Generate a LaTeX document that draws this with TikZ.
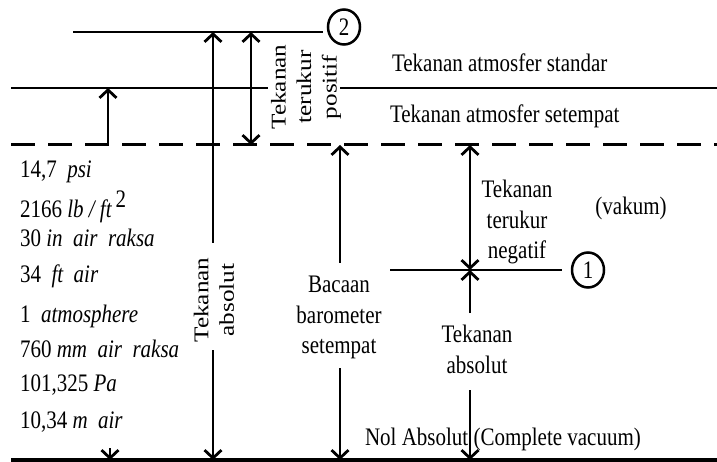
\documentclass[tikz,border=0pt]{standalone}
\usepackage{graphicx}
\usepackage{fontspec}
\setmainfont{Liberation Serif}
\usetikzlibrary{arrows.meta,shapes.geometric}
\newcommand{\hs}[1]{\scalebox{1}[1.2]{#1}}
\newcommand{\vs}[1]{\scalebox{1}[1.2]{\begin{tabular}{@{}c@{}}#1\end{tabular}}}
\newcommand{\rs}[1]{\scalebox{1.2}[1]{\begin{tabular}{@{}c@{}}#1\end{tabular}}}
\tikzset{
  barb/.tip={Straight Barb[length=8pt,width=17pt,line width=2.8pt]},
  base/.style={line width=2.1pt},
  dashline/.style={line width=3pt, dash pattern=on 24pt off 13pt},
  arr/.style={base, -barb},
  darr/.style={base, barb-barb},
  lbl/.style={inner sep=0pt, outer sep=0pt},
  circ/.style={draw, ellipse, line width=2.5pt, minimum width=32pt, minimum height=35pt, inner sep=0pt}
}
\begin{document}
\begin{tikzpicture}[x=1pt, y=-1pt, font=\fontsize{21}{25.5}\selectfont]
\useasboundingbox (0,0) rectangle (717,462);
% main horizontal levels
\coordinate (tL) at (73,32);  \coordinate (tR) at (323,32);
\coordinate (sL) at (11,88);  \coordinate (sM1) at (268,88);
\coordinate (sM2) at (340,88); \coordinate (sR) at (717,88);
\coordinate (dL) at (11,145); \coordinate (dR) at (717,145);
\coordinate (bL) at (11,460); \coordinate (bR) at (717,460);
\draw[base] (tL) -- (tR);
\node[circ] (c2) at (344,27) {\hs{2}};
\draw[base] (sL) -- (sM1);
\draw[base] (sM2) -- (sR);
\draw[dashline] (dL) -- (dR);
\draw[line width=3.5pt] (bL) -- (bR);

% labels at right top
\node[lbl, anchor=base west] (std) at (392,72) {\hs{Tekanan atmosfer standar}};
\node[lbl, anchor=base west] (loc) at (390,123) {\hs{Tekanan atmosfer setempat}};

% arrow 1: local atmosphere
\coordinate (a1b) at (108,145); \coordinate (a1t) at (108,88);
\draw[arr] (a1b) -- (a1t);

% arrow 2: absolute pressure (point 2)
\coordinate (a2t) at (213,32); \coordinate (a2m1) at (213,243);
\coordinate (a2m2) at (213,350); \coordinate (a2b) at (213,460);
\node[lbl, rotate=90] (abs1) at (216,300) {\rs{Tekanan\\absolut}};
\draw[arr] (a2m1) -- (a2t);
\draw[arr] (a2m2) -- (a2b);

% arrow 3: positive gauge pressure
\coordinate (a3t) at (251,32); \coordinate (a3b) at (251,145);
\draw[darr] (a3t) -- (a3b);
\node[lbl, rotate=90] (pos) at (306,87) {\rs{Tekanan\\terukur\\positif}};

% arrow 4: barometer reading
\coordinate (a4t) at (340,145); \coordinate (a4m1) at (340,263);
\coordinate (a4m2) at (340,368); \coordinate (a4b) at (340,460);
\node[lbl] (baro) at (339,317) {\vs{Bacaan\\barometer\\setempat}};
\draw[arr] (a4m1) -- (a4t);
\draw[arr] (a4m2) -- (a4b);

% arrow 5: negative gauge / absolute (point 1)
\coordinate (a5t) at (470,145); \coordinate (a5x) at (470,270);
\coordinate (a5m1) at (470,313); \coordinate (a5m2) at (470,390);
\coordinate (a5b) at (470,460);
\draw[darr] (a5t) -- (a5x);
\draw[arr] (a5m1) -- (a5x);
\draw[arr] (a5m2) -- (a5b);
\node[lbl] (neg) at (517,222) {\vs{Tekanan\\terukur\\negatif}};
\node[lbl] (abs2) at (477,352) {\vs{Tekanan\\absolut}};
\node[lbl, anchor=base] (vak) at (631,215) {\hs{(vakum)}};

% point 1
\coordinate (h1) at (390,270); \coordinate (h2) at (562,270);
\draw[base] (h1) -- (h2);
\node[circ] (c1) at (588,270) {\hs{1}};

% zero
\node[lbl, anchor=base west] (nol) at (365,445) {\hs{Nol Absolut (Complete vacuum)}};

% left list
\node[lbl, anchor=base west] (v1) at (20,178) {\hs{14,7 \ \textit{psi}}};
\node[lbl, anchor=base west] (v2) at (20,218) {\hs{2166 \textit{lb / ft}\,\raisebox{9pt}{2}}};
\node[lbl, anchor=base west] (v3) at (20,247) {\hs{30 \textit{in\ \ air\ \ raksa}}};
\node[lbl, anchor=base west] (v4) at (20,282) {\hs{34 \ \textit{ft\ \ air}}};
\node[lbl, anchor=base west] (v5) at (20,322) {\hs{1 \ \textit{atmosphere}}};
\node[lbl, anchor=base west] (v6) at (20,357) {\hs{760 \textit{mm\ \ air\ \ raksa}}};
\node[lbl, anchor=base west] (v7) at (20,391) {\hs{101,325 \textit{Pa}}};
\node[lbl, anchor=base west] (v8) at (20,428) {\hs{10,34 \textit{m\ \ air}}};
\coordinate (a6t) at (110,448); \coordinate (a6b) at (110,460);
\draw[arr] (a6t) -- (a6b);
\end{tikzpicture}
\end{document}
